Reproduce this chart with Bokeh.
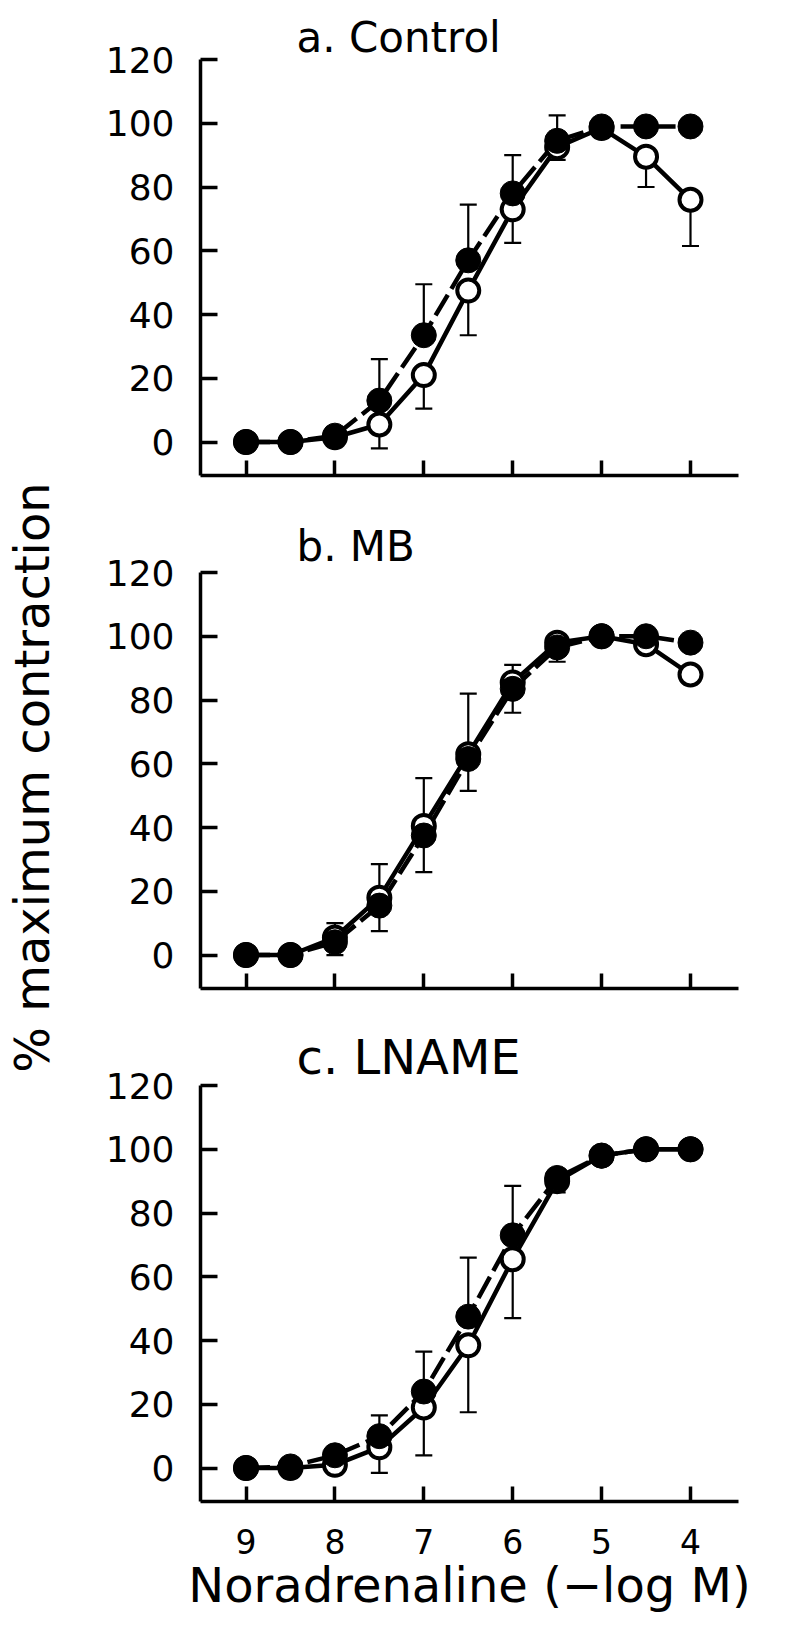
import math

from bokeh.embed import file_html
from bokeh.layouts import column, row
from bokeh.models import ColumnDataSource, FixedTicker, Label, Range1d, TeeHead, Whisker
from bokeh.plotting import figure
from bokeh.resources import INLINE

# Noradrenaline concentration (-log M)
conc = [9, 8.5, 8, 7.5, 7, 6.5, 6, 5.5, 5, 4.5, 4]
x_ticks = [9, 8, 7, 6, 5, 4]
y_ticks = [0, 20, 40, 60, 80, 100, 120]

# a. Control
ctrl_filled = [0, 0, 2, 13, 33.5, 57, 78, 94.5, 99, 99, 99]
ctrl_filled_sem = [0, 0, 0, 13, 16, 17.5, 12, 8, 0, 0, 0]
ctrl_open = [0, 0, 1.5, 5.5, 21, 47.5, 73, 92.5, 98.5, 89.5, 76]
ctrl_open_sem = [0, 0, 0, 7.5, 10.5, 14, 10.5, 4, 0, 9.5, 14.5]

# b. MB
mb_filled = [0, 0, 4, 15.5, 37.5, 61.5, 83.5, 96.5, 100, 100, 98]
mb_filled_sem = [0, 0, 6, 13, 18, 20.5, 7.5, 0, 0, 0, 0]
mb_open = [0, 0, 5.5, 18, 40.5, 63, 85.5, 98, 100, 97.5, 88]
mb_open_sem = [0, 0, 5.5, 10.5, 14.5, 11.5, 9.5, 6, 0, 0, 0]

# c. LNAME
ln_filled = [0, 0.5, 4, 10, 24, 47.5, 73, 91, 98, 100, 100]
ln_filled_sem = [0, 0, 0, 6.5, 12.5, 18.5, 15.5, 0, 0, 0, 0]
ln_open = [0, 0, 1, 6.5, 19, 38.5, 65.5, 90, 98, 100, 100]
ln_open_sem = [0, 0, 0, 8, 15, 21, 18.5, 3.5, 0, 0, 0]

FONT = "DejaVu Sans"
X_RANGE = (9.512, 3.46)
Y_RANGE = (-10.5, 120)
SIDE_W = 62          # strip holding the shared y-axis title
PANEL_W = 787 - SIDE_W


def error_source(means, sems, upward):
    xs, lo, hi = [], [], []
    for x, m, s in zip(conc, means, sems):
        if s <= 0:
            continue
        xs.append(x)
        if upward:
            lo.append(m)
            hi.append(m + s)
        else:
            lo.append(m - s)
            hi.append(m)
    return ColumnDataSource(dict(x=xs, lower=lo, upper=hi))


def make_panel(title, title_size, title_standoff, filled, filled_sem,
               opened, opened_sem, height, border_top, border_bottom, x_labels):
    p = figure(width=PANEL_W, height=height, title=title,
               x_range=Range1d(*X_RANGE), y_range=Range1d(*Y_RANGE),
               output_backend="svg", toolbar_location=None,
               min_border_left=200 - SIDE_W, min_border_right=49,
               min_border_top=border_top, min_border_bottom=border_bottom)
    p.outline_line_color = None
    p.grid.visible = False
    p.background_fill_color = "white"
    p.border_fill_color = "white"

    p.title.align = "left"
    p.title.offset = 96
    p.title.text_font = FONT
    p.title.text_font_size = title_size
    p.title.text_font_style = "normal"
    p.title.text_color = "black"
    p.title.standoff = title_standoff

    for ax in (p.xaxis[0], p.yaxis[0]):
        ax.axis_line_width = 3.5
        ax.axis_line_color = "black"
        ax.major_tick_line_width = 3.5
        ax.major_tick_line_color = "black"
        ax.major_tick_out = 0
        ax.minor_tick_line_color = None
        ax.major_label_text_font = FONT
        ax.major_label_text_color = "black"

    p.yaxis.ticker = FixedTicker(ticks=y_ticks)
    p.yaxis.major_tick_in = 17
    p.yaxis.major_label_text_font_size = "36px"
    p.yaxis.major_label_standoff = 26

    p.xaxis.ticker = FixedTicker(ticks=x_ticks)
    p.xaxis.major_tick_in = 15
    if x_labels:
        p.xaxis.major_label_text_font_size = "33px"
        p.xaxis.major_label_standoff = 27
        p.xaxis.axis_label = "Noradrenaline (\u2212log M)"
        p.xaxis.axis_label_text_font = FONT
        p.xaxis.axis_label_text_font_size = "48px"
        p.xaxis.axis_label_text_font_style = "normal"
        p.xaxis.axis_label_text_color = "black"
        p.xaxis.axis_label_standoff = 0
    else:
        p.xaxis.major_label_overrides = {t: "" for t in x_ticks}
        p.xaxis.major_label_text_font_size = "1px"
        p.xaxis.major_label_standoff = 0

    # error bars: filled series upward, open series downward
    up = Whisker(base="x", upper="upper", lower="lower",
                 source=error_source(filled, filled_sem, True),
                 dimension="height", line_width=2.2, line_color="black",
                 upper_head=TeeHead(size=17, line_width=2.2, line_color="black"),
                 lower_head=None, level="underlay")
    down = Whisker(base="x", upper="upper", lower="lower",
                   source=error_source(opened, opened_sem, False),
                   dimension="height", line_width=2.2, line_color="black",
                   lower_head=TeeHead(size=17, line_width=2.2, line_color="black"),
                   upper_head=None, level="underlay")
    p.add_layout(up)
    p.add_layout(down)

    p.line(conc, opened, line_width=4.5, line_color="black")
    p.line(conc, filled, line_width=4.5, line_color="black", line_dash="24 7")

    p.scatter(conc, opened, marker="circle", size=22, fill_color="white",
              line_color="black", line_width=4)
    p.scatter(conc, filled, marker="circle", size=25, fill_color="black",
              line_color="black", line_width=1)
    return p


pa = make_panel("a. Control", "42px", -4, ctrl_filled, ctrl_filled_sem,
                ctrl_open, ctrl_open_sem, 510, 59, 35, False)
pb = make_panel("b. MB", "42px", 3, mb_filled, mb_filled_sem,
                mb_open, mb_open_sem, 510, 62, 32, False)
pc = make_panel("c. LNAME", "48px", 2, ln_filled, ln_filled_sem,
                ln_open, ln_open_sem, 606, 65, 125, True)

# narrow strip on the left carrying the shared y-axis title (pixel-like ranges)
side = figure(width=SIDE_W, height=1626, x_range=Range1d(0, SIDE_W),
              y_range=Range1d(1626, 0), output_backend="svg",
              toolbar_location=None, min_border=0)
side.axis.visible = False
side.grid.visible = False
side.outline_line_color = None
side.add_layout(Label(x=31, y=777, text="% maximum contraction",
                      angle=math.pi / 2, text_align="center",
                      text_baseline="middle", text_font=FONT,
                      text_font_size="48px", text_color="black"))

layout = row(side, column(pa, pb, pc, spacing=0), spacing=0)
open("out.html", "w").write(file_html(layout, INLINE))
